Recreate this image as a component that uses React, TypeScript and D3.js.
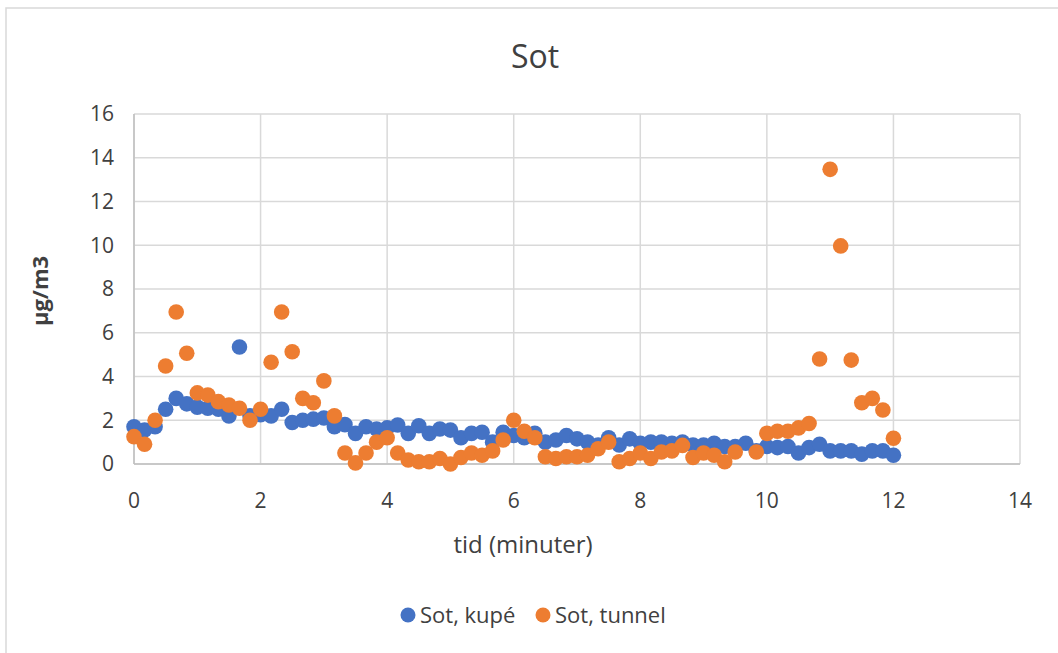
import React from "react";
import * as d3 from "d3";

const times: number[] = d3.range(0, 73).map((i) => i / 6);

const kupe: (number | null)[] = [
  1.7, 1.55, 1.7, 2.5, 3.0, 2.75, 2.6, 2.55, 2.5, 2.2, 5.35, 2.2, 2.25,
  2.2, 2.5, 1.9, 2.0, 2.05, 2.1, 1.7, 1.8, 1.4, 1.7, 1.6, 1.65,
  1.78, 1.4, 1.75, 1.4, 1.6, 1.55, 1.2, 1.4, 1.45, 1.0, 1.45, 1.3,
  1.2, 1.4, 1.0, 1.1, 1.3, 1.15, 1.0, 0.87, 1.2, 0.87, 1.15, 0.95,
  1.0, 1.0, 0.95, 1.0, 0.87, 0.87, 0.95, 0.8, 0.8, 0.95, 0.6, 0.8,
  0.75, 0.8, 0.5, 0.75, 0.9, 0.6, 0.6, 0.6, 0.45, 0.6, 0.6, 0.4,
];

const tunnel: (number | null)[] = [
  1.25, 0.9, 2.0, 4.48, 6.95, 5.06, 3.25, 3.15, 2.85, 2.7, 2.55, 2.0, 2.5,
  4.65, 6.95, 5.13, 3.0, 2.8, 3.8, 2.2, 0.5, 0.05, 0.5, 1.0, 1.2,
  0.5, 0.18, 0.1, 0.1, 0.25, 0.0, 0.3, 0.5, 0.4, 0.6, 1.1, 2.0,
  1.5, 1.2, 0.33, 0.25, 0.33, 0.33, 0.4, 0.7, 1.0, 0.1, 0.25, 0.5,
  0.25, 0.55, 0.6, 0.85, 0.3, 0.5, 0.4, 0.1, 0.55, null, 0.55, 1.4,
  1.5, 1.5, 1.65, 1.85, 4.8, 13.47, 9.97, 4.75, 2.8, 3.0, 2.47, 1.18,
];

const xTicks: number[] = [0, 2, 4, 6, 8, 10, 12, 14];
const yTicks: number[] = [0, 2, 4, 6, 8, 10, 12, 14, 16];

const seriesNames = ["Sot, kupé", "Sot, tunnel"];
const seriesColors = ["#4472C4", "#ED7D31"];

const W = 1058;
const H = 653;
const FONT = "'Open Sans', 'Segoe UI', sans-serif";
const TXT = "#404040";

export default function App() {
  const x = d3.scaleLinear().domain([0, 14]).range([134, 1020]);
  const y = d3.scaleLinear().domain([0, 16]).range([464, 114]);
  const series = [kupe, tunnel];

  return (
    <svg
      width={W}
      height={H}
      style={{ position: "absolute", left: 0, top: 0, background: "#fff" }}
      fontFamily={FONT}
    >
      <rect x={0} y={0} width={W} height={H} fill="#fff" />
      <rect x={6} y={8} width={W + 10} height={H + 10} fill="#fff" stroke="#d9d9d9" strokeWidth={1.5} />
      <text x={535} y={68} textAnchor="middle" fontSize={32} fill={TXT}>
        Sot
      </text>
      {yTicks.map((t) => (
        <line key={"gy" + t} x1={x(0)} x2={x(14)} y1={y(t)} y2={y(t)} stroke="#d9d9d9" strokeWidth={1.5} />
      ))}
      {xTicks.map((t) => (
        <line key={"gx" + t} x1={x(t)} x2={x(t)} y1={y(0)} y2={y(16)} stroke="#d9d9d9" strokeWidth={1.5} />
      ))}
      <line x1={x(0)} x2={x(14)} y1={y(0)} y2={y(0)} stroke="#bfbfbf" strokeWidth={1.5} />
      <line x1={x(0)} x2={x(0)} y1={y(0)} y2={y(16)} stroke="#bfbfbf" strokeWidth={1.5} />
      {yTicks.map((t) => (
        <text key={"ly" + t} x={114} y={y(t)} dy="0.35em" textAnchor="end" fontSize={21} fill={TXT}>
          {t}
        </text>
      ))}
      {xTicks.map((t) => (
        <text key={"lx" + t} x={x(t)} y={508} textAnchor="middle" fontSize={21} fill={TXT}>
          {t}
        </text>
      ))}
      <text x={523} y={553} textAnchor="middle" fontSize={24} fill={TXT}>
        tid (minuter)
      </text>
      <text
        transform={`translate(48, 291) rotate(-90)`}
        textAnchor="middle"
        fontSize={22}
        fontWeight="bold"
        fill={TXT}
      >
        µg/m3
      </text>
      {series.map((s, si) => (
        <g key={"s" + si}>
          {s.map((v, i) =>
            v === null ? null : (
              <circle key={i} cx={x(times[i])} cy={y(v)} r={7.8} fill={seriesColors[si]} />
            )
          )}
        </g>
      ))}
      {seriesNames.map((n, i) => {
        const lx = i === 0 ? 408 : 543;
        return (
          <g key={"lg" + i}>
            <circle cx={lx} cy={615} r={7.5} fill={seriesColors[i]} />
            <text x={lx + 12} y={615} dy="0.35em" fontSize={22} fill={TXT}>
              {n}
            </text>
          </g>
        );
      })}
    </svg>
  );
}
